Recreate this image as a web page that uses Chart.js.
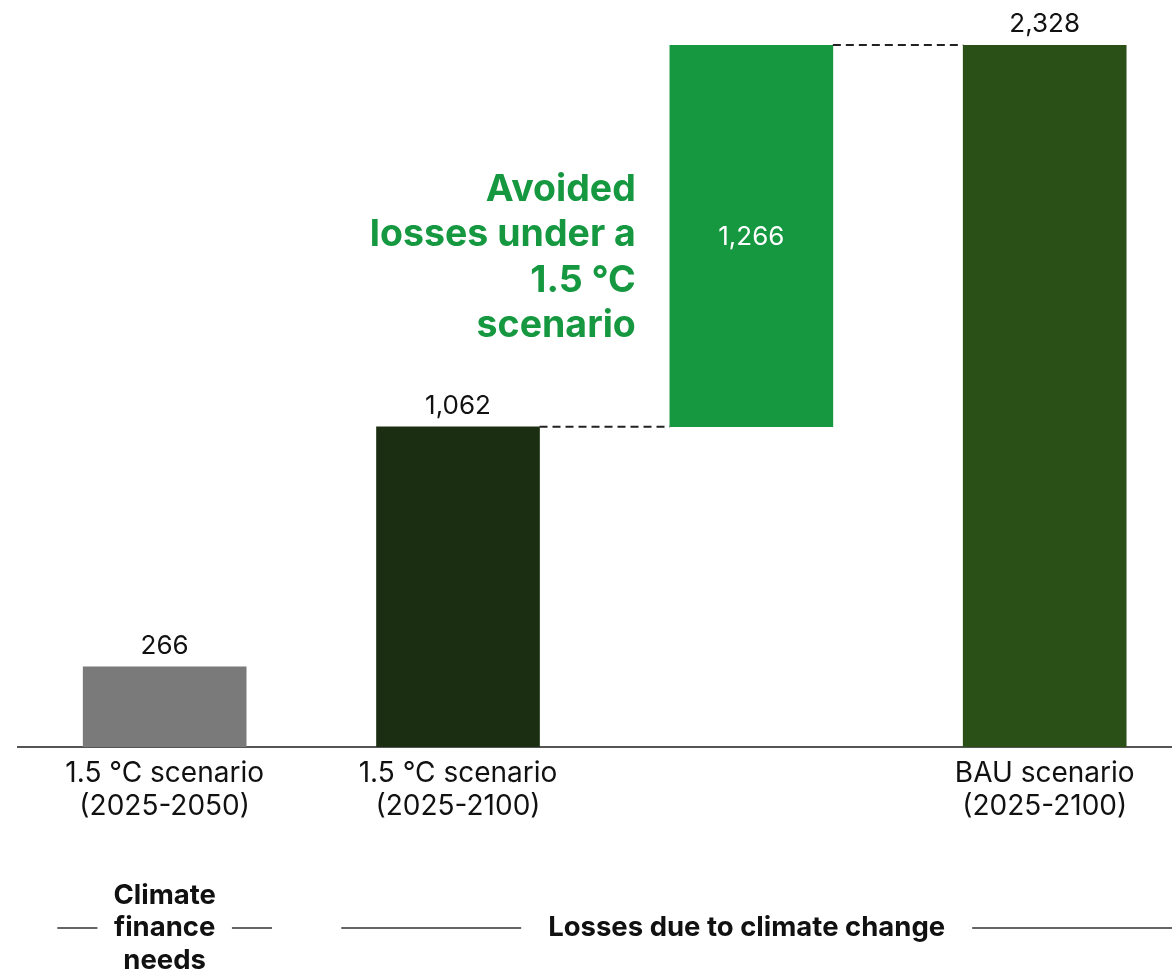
<!DOCTYPE html>
<html>
<head>
<meta charset="utf-8">
<script src="https://cdn.jsdelivr.net/npm/chart.js@4/dist/chart.umd.min.js"></script>
<style>
  html, body { margin: 0; padding: 0; background: #fff; overflow: hidden; }
  #wrap { width: 1172px; height: 971px; position: relative; }
</style>
</head>
<body>
<div id="wrap"><canvas id="chart"></canvas></div>
<script>
const categories = [
    ['1.5 °C scenario', '(2025-2050)'],
    ['1.5 °C scenario', '(2025-2100)'],
    '',
    ['BAU scenario', '(2025-2100)']
];
// bar heights and where each one starts (the avoided losses float on top of the 1.5 °C losses)
const values = [266, 1062, 1266, 2328];
const bases = [0, 0, 1062, 0];
const barColors = ['#7a7a7a', '#1c2e12', '#169841', '#2a5018'];
const avoidedText = ['Avoided', 'losses under a', '1.5 °C', 'scenario'];
const groupLabels = [
    { lines: ['Climate', 'finance', 'needs'], center: 0, from: -0.366, to: 0.366, gap: 16 },
    { lines: ['Losses due to climate change'], center: 1.984, from: 0.602, to: null, gap: 27 }
];

const FONT = 'Inter, "Noto Sans", sans-serif';

const waterfallExtras = {
    id: 'waterfallExtras',
    afterDatasetsDraw(chart) {
        const ctx = chart.ctx;
        const bars = chart.getDatasetMeta(0).data;
        const x = chart.scales.x;
        const area = chart.chartArea;
        ctx.save();

        // dashed connectors between the steps
        ctx.strokeStyle = '#222';
        ctx.lineWidth = 2;
        ctx.setLineDash([8, 5]);
        for (let i = 1; i < 3; i++) {
            const a = bars[i], b = bars[i + 1];
            const y = i === 1 ? a.y : b.y;
            ctx.beginPath();
            ctx.moveTo(a.x + a.width / 2, y);
            ctx.lineTo(b.x - b.width / 2, y);
            ctx.stroke();
        }
        ctx.setLineDash([]);

        // value labels
        ctx.textAlign = 'center';
        ctx.textBaseline = 'middle';
        ctx.font = '26px ' + FONT;
        bars.forEach((bar, i) => {
            const txt = values[i].toLocaleString('en-US');
            if (bases[i] > 0) {
                ctx.fillStyle = '#fff';
                ctx.fillText(txt, bar.x, (bar.y + bar.base) / 2 + 1);
            } else {
                ctx.fillStyle = '#111';
                ctx.fillText(txt, bar.x, bar.y - 21);
            }
        });

        // note next to the floating bar
        const fl = bars[2];
        ctx.textAlign = 'right';
        ctx.fillStyle = '#169841';
        ctx.font = 'bold 37.5px ' + FONT;
        const mid = (fl.y + fl.base) / 2;
        avoidedText.forEach((line, k) => {
            ctx.fillText(line, fl.x - fl.width / 2 - 34, mid - 46 + k * 45.3);
        });

        // group labels under the axis
        ctx.textAlign = 'center';
        ctx.fillStyle = '#111';
        ctx.font = 'bold 27.5px ' + FONT;
        ctx.strokeStyle = '#333';
        ctx.lineWidth = 1.5;
        const midY = 928;
        groupLabels.forEach(g => {
            const cx = x.getPixelForValue(g.center);
            const n = g.lines.length;
            let w = 0;
            g.lines.forEach((line, k) => {
                ctx.fillText(line, cx, midY + (k - (n - 1) / 2) * 32.5);
                w = Math.max(w, ctx.measureText(line).width);
            });
            const left = x.getPixelForValue(g.from);
            const right = g.to === null ? area.right : x.getPixelForValue(g.to);
            ctx.beginPath();
            ctx.moveTo(left, midY);
            ctx.lineTo(cx - w / 2 - g.gap, midY);
            ctx.moveTo(cx + w / 2 + g.gap, midY);
            ctx.lineTo(right, midY);
            ctx.stroke();
        });

        ctx.restore();
    }
};

new Chart(document.getElementById('chart'), {
    type: 'bar',
    data: {
        datasets: [{
            data: values.map((v, i) => ({ x: i, y: [bases[i], bases[i] + v] })),
            backgroundColor: barColors,
            borderWidth: 0,
            barThickness: 163
        }]
    },
    options: {
        responsive: true,
        maintainAspectRatio: false,
        animation: false,
        layout: {
            padding: { top: 45, left: 18, right: 0, bottom: 0 }
        },
        plugins: {
            legend: { display: false },
            tooltip: { enabled: false }
        },
        scales: {
            x: {
                type: 'linear',
                offset: false,
                min: -0.5,
                max: 3.434,
                afterBuildTicks: scale => {
                    scale.ticks = categories.map((c, i) => ({ value: i }));
                },
                afterFit: scale => {
                    scale.height = 224;
                },
                grid: { display: false, drawTicks: false },
                border: { display: true, color: '#555', width: 2 },
                ticks: {
                    autoSkip: false,
                    maxRotation: 0,
                    padding: 10,
                    color: '#111',
                    font: { size: 28, family: FONT, lineHeight: 1.18 },
                    callback: (value, index) => categories[index]
                }
            },
            y: {
                display: false,
                min: 0,
                max: 2328
            }
        }
    },
    plugins: [waterfallExtras]
});
</script>
</body>
</html>
